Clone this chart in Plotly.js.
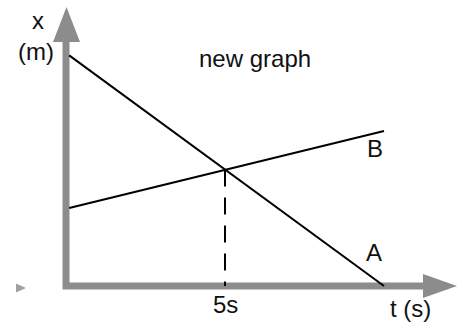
<!DOCTYPE html>
<html><head><meta charset="utf-8">
<script src="https://cdn.plot.ly/plotly-3.0.1.min.js"></script>
<style>html,body{margin:0;padding:0;background:#fff}#chart{width:466px;height:322px}</style>
</head><body><div id="chart"></div>
<script>
// Data (t in s, x in m, arbitrary units)
const timeA = [0.1, 10];
const posA = [9.9, 0];
const timeB = [0.1, 10];
const posB = [3.35, 6.65];
const crossTime = [5, 5];
const crossPos = [5, 0];
const tickLabels = ['5s'];
const lineLabels = ['A', 'B'];

const W = 466, H = 322;
const px = (x) => x / W;
const py = (y) => 1 - y / H;
const gray = '#8c8c8c';
const font = {family: 'Liberation Sans, Arial, sans-serif', size: 24, color: '#111'};

const traces = [
  {x: timeA, y: posA, mode: 'lines', line: {color: '#000', width: 2}, hoverinfo: 'skip'},
  {x: timeB, y: posB, mode: 'lines', line: {color: '#000', width: 2}, hoverinfo: 'skip'},
  {x: crossTime, y: crossPos, mode: 'lines', line: {color: '#000', width: 2, dash: '17px,11px'}, hoverinfo: 'skip'}
];

function tri(points) {
  return 'M ' + points.map(p => px(p[0]) + ',' + py(p[1])).join(' L ') + ' Z';
}

const shapes = [
  {type: 'path', xref: 'paper', yref: 'paper',
   path: 'M ' + px(66) + ',' + py(40) + ' L ' + px(66) + ',' + py(286) + ' L ' + px(424) + ',' + py(286),
   line: {color: gray, width: 7}, layer: 'below'},
  {type: 'path', xref: 'paper', yref: 'paper', path: tri([[53, 42], [66.5, 7], [80, 42]]),
   fillcolor: gray, line: {width: 0}},
  {type: 'path', xref: 'paper', yref: 'paper', path: tri([[423, 274], [457, 286], [423, 298]]),
   fillcolor: gray, line: {width: 0}},
  {type: 'path', xref: 'paper', yref: 'paper', path: tri([[16, 283.5], [26, 288], [16, 292.5]]),
   fillcolor: '#a0a0a0', line: {width: 0}}
];

function label(text, x, y) {
  return {text: text, xref: 'paper', yref: 'paper', x: px(x), y: py(y),
          xanchor: 'center', yanchor: 'middle', showarrow: false, font: font};
}

const annotations = [
  label('new graph', 255, 59),
  label('x', 37.5, 21),
  label('(m)', 36, 52),
  label(tickLabels[0], 225, 304),
  label('t (s)', 410, 308),
  label(lineLabels[0], 374, 252),
  label(lineLabels[1], 375, 149)
];

const layout = {
  width: W, height: H,
  margin: {l: 0, r: 0, t: 0, b: 0, pad: 0},
  paper_bgcolor: '#fff', plot_bgcolor: '#fff',
  showlegend: false,
  xaxis: {visible: false, range: [-66 / 31.8, 400 / 31.8], fixedrange: true},
  yaxis: {visible: false, range: [-36 / 23.3, 286 / 23.3], fixedrange: true},
  shapes: shapes,
  annotations: annotations
};

Plotly.newPlot('chart', traces, layout, {displayModeBar: false, staticPlot: true});
</script>
</body></html>
